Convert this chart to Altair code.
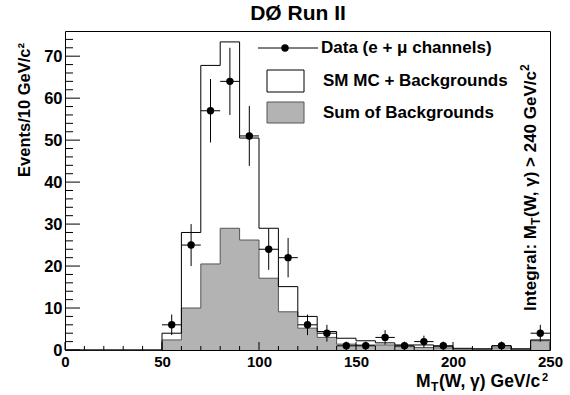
import altair as alt
import pandas as pd

FONT = "Liberation Sans"

# 10 GeV/c^2 bins of the transverse mass, 0-250
bin_edges = list(range(0, 260, 10))
data_counts = [0, 0, 0, 0, 0, 6, 25, 57, 64, 51, 24, 22, 6, 4, 1, 1, 3, 1, 2, 1, 0, 0, 1, 0, 4]
sm_mc_plus_bkg = [0, 0, 0, 0, 0, 4.0, 28.0, 67.8, 73.4, 50.5, 29.0, 15.1, 8.0, 4.4, 2.8, 2.2,
                  1.7, 1.2, 1.2, 0.9, 0.4, 0.3, 1.0, 0.3, 2.4]
sum_bkg = [0, 0, 0, 0, 0, 2.4, 10.0, 20.5, 29.0, 26.2, 17.1, 9.1, 5.2, 3.0, 1.4, 1.2,
           1.2, 0.8, 0.6, 0.5, 0.2, 0.1, 0.5, 0.1, 2.2]

x_major = [0, 50, 100, 150, 200, 250]
x_minor = [v for v in range(10, 250, 10) if v % 50]
y_major = [0, 10, 20, 30, 40, 50, 60, 70]
y_minor = [v for v in range(2, 76, 2) if v % 10]

# step histograms: one point per left edge, last value repeated at the right edge
hist = pd.DataFrame({
    "edge": bin_edges,
    "mc": sm_mc_plus_bkg + [sm_mc_plus_bkg[-1]],
    "bkg": sum_bkg + [sum_bkg[-1]],
})
pts = pd.DataFrame({
    "center": [e + 5 for e in bin_edges[:-1]],
    "n": data_counts,
})

xs = alt.Scale(domain=[0, 250], nice=False, zero=False)
ys = alt.Scale(domain=[0, 76], nice=False)

x_axis = alt.Axis(values=x_major, ticks=False, domain=False, grid=False, title=None,
                  labelFont=FONT, labelFontWeight="bold", labelFontSize=15,
                  labelColor="black", labelPadding=4, labelFlush=False)
y_axis = alt.Axis(values=y_major, ticks=False, domain=False, grid=False, title=None,
                  labelFont=FONT, labelFontWeight="bold", labelFontSize=16.5,
                  labelColor="black", labelPadding=3)

base = alt.Chart(hist)

bkg_area = base.mark_area(interpolate="step-after", color="#b3b3b3").encode(
    x=alt.X("edge:Q", scale=xs, axis=x_axis),
    y=alt.Y("bkg:Q", scale=ys, axis=y_axis),
)
bkg_line = base.mark_line(interpolate="step-after", color="#555555", strokeWidth=1).encode(
    x=alt.X("edge:Q", scale=xs), y=alt.Y("bkg:Q", scale=ys)
)
mc_line = base.mark_line(interpolate="step-after", color="black", strokeWidth=1).encode(
    x=alt.X("edge:Q", scale=xs), y=alt.Y("mc:Q", scale=ys)
)

pbase = alt.Chart(pts).transform_filter("datum.n > 0").transform_calculate(
    lo="datum.n - sqrt(datum.n)",
    hi="datum.n + sqrt(datum.n)",
    xl="datum.center - 5",
    xr="datum.center + 5",
)
vbar = pbase.mark_rule(color="black", strokeWidth=1).encode(
    x=alt.X("center:Q", scale=xs), y=alt.Y("lo:Q", scale=ys), y2="hi:Q"
)
hbar = pbase.mark_rule(color="black", strokeWidth=1).encode(
    x=alt.X("xl:Q", scale=xs), x2="xr:Q", y=alt.Y("n:Q", scale=ys)
)
dots = pbase.mark_point(filled=True, color="black", size=55, opacity=1).encode(
    x=alt.X("center:Q", scale=xs), y=alt.Y("n:Q", scale=ys)
)

# inward-pointing ticks
def yticks(vals, length):
    return alt.Chart(pd.DataFrame({"v": vals})).mark_rule(color="black", strokeWidth=1).encode(
        y=alt.Y("v:Q", scale=ys), x=alt.value(0), x2=alt.value(length)
    )

def xticks(vals, length):
    return alt.Chart(pd.DataFrame({"v": vals})).mark_rule(color="black", strokeWidth=1).encode(
        x=alt.X("v:Q", scale=xs), y=alt.value(319), y2=alt.value(319 - length)
    )

def label(txt, x, y, size=17, angle=0, align="left", baseline="alphabetic", weight="bold"):
    return alt.Chart(alt.Data(values=[{}])).mark_text(
        text=txt, font=FONT, fontSize=size, fontWeight=weight, color="black",
        align=align, baseline=baseline, angle=angle,
    ).encode(x=alt.value(x), y=alt.value(y))

def box(x1, x2, y1, y2, fill, stroke):
    return alt.Chart(alt.Data(values=[{}])).mark_rect(
        fill=fill, stroke=stroke, strokeWidth=1
    ).encode(x=alt.value(x1), x2=alt.value(x2), y=alt.value(y1), y2=alt.value(y2))

legend = [
    alt.Chart(alt.Data(values=[{}])).mark_rule(color="black", strokeWidth=1).encode(
        x=alt.value(193), x2=alt.value(253), y=alt.value(17)
    ),
    alt.Chart(alt.Data(values=[{}])).mark_point(filled=True, color="black", size=55, opacity=1).encode(
        x=alt.value(220), y=alt.value(17)
    ),
    label("Data (e + μ channels)", 256, 17, baseline="middle"),
    box(202, 239, 39, 61, "white", "black"),
    label("SM MC + Backgrounds", 258, 50, baseline="middle"),
    box(202, 239, 71, 92, "#b3b3b3", "#555555"),
    label("Sum of Backgrounds", 258, 82, baseline="middle"),
]

titles = [
    label("DØ Run II", 233, -11, size=21, align="center"),
    label("Events/10 GeV/c²", -35, 12, size=16.5, angle=270, align="right"),
    # x-axis title with subscript / superscript
    label("M", 351, 356, size=17.5),
    label("T", 366, 360, size=12),
    label("(W, γ) GeV/c", 374, 356, size=17.5),
    label("2", 477, 350, size=11),
    # rotated overflow note
    label("Integral: M", 471, 280, angle=270),
    label("T", 475, 194, size=12, angle=270),
    label("(W, γ) > 240 GeV/c", 471, 186, angle=270),
    label("2", 464, 40, size=12, angle=270),
]

chart = alt.layer(
    bkg_area, bkg_line, mc_line,
    yticks(y_major, 15), yticks(y_minor, 8),
    xticks(x_major, 8), xticks(x_minor, 4),
    vbar, hbar, dots,
    *legend, *titles,
).properties(
    width=485, height=319,
    autosize=alt.AutoSizeParams(type="none"),
    padding={"left": 65, "top": 31, "right": 20, "bottom": 45},
    background="white",
).configure_view(stroke="black", strokeWidth=1)

chart.save("out.html", embed_options={"renderer": "svg", "actions": False})
